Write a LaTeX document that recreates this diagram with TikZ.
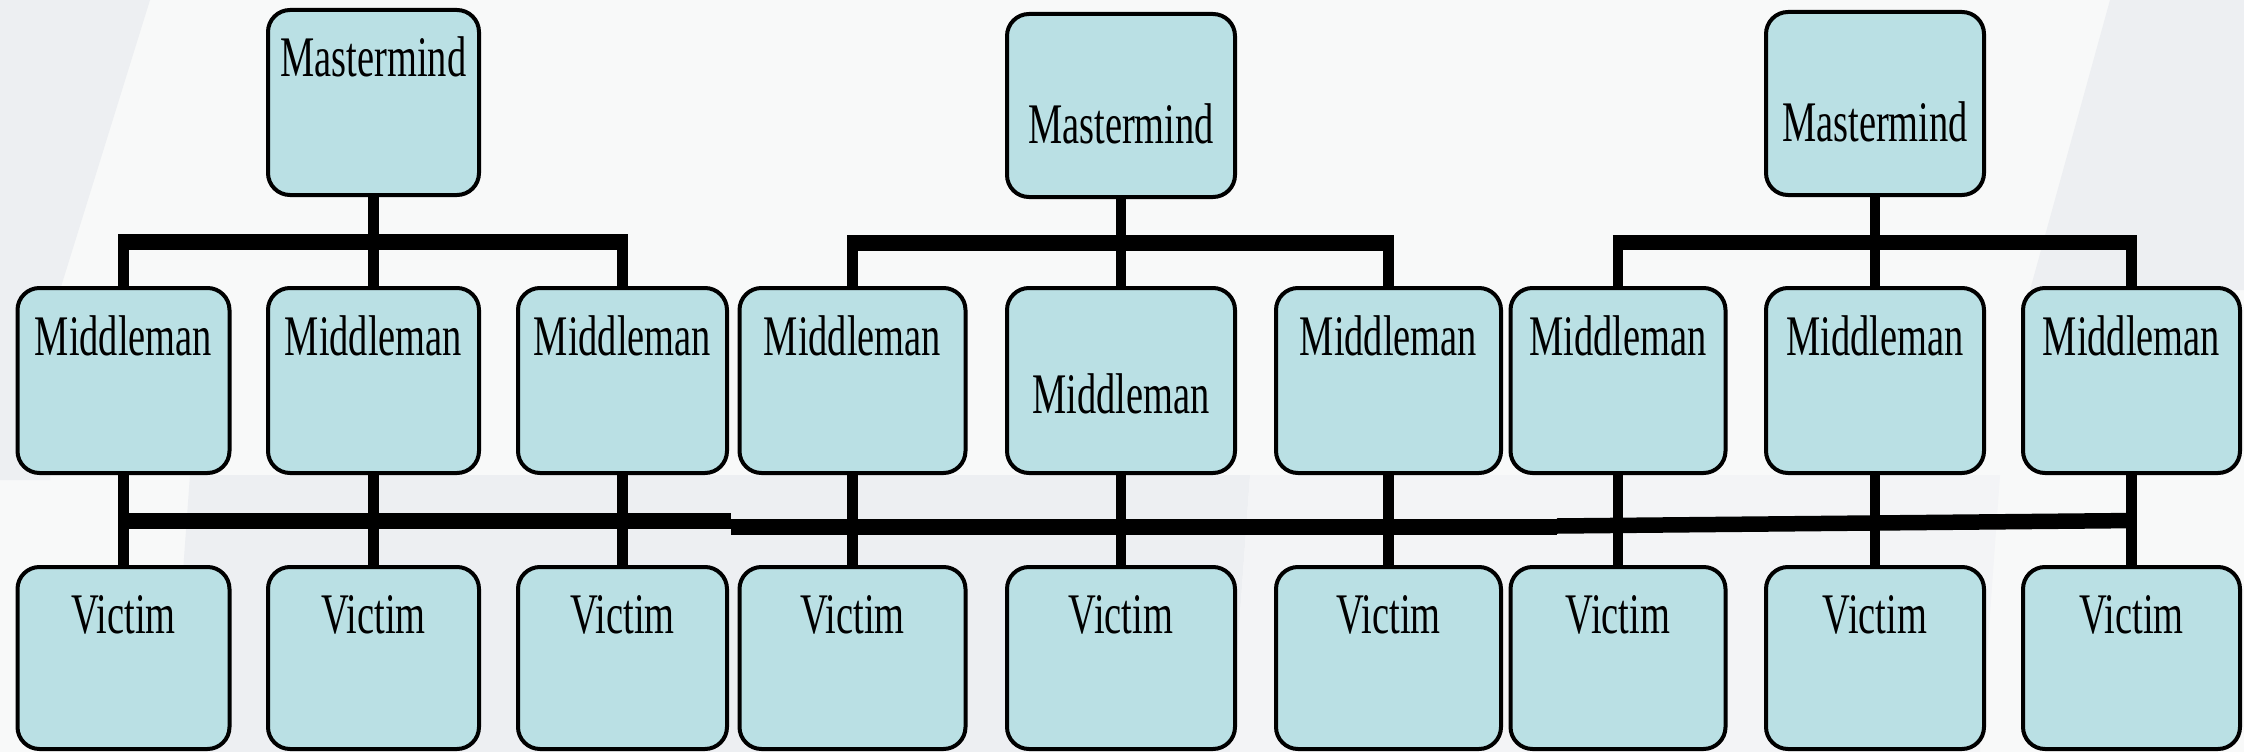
\documentclass[tikz,border=0pt]{standalone}
\usepackage{fontspec}
\newfontfamily\boxfont[FakeStretch=0.67]{Liberation Serif}
\definecolor{boxfill}{RGB}{186,224,228}
\definecolor{bgcol}{RGB}{248,249,249}
\definecolor{shadeA}{RGB}{237,239,242}
\definecolor{shadeB}{RGB}{243,244,246}
\begin{document}
\begin{tikzpicture}[x=1pt,y=-1pt,
  box/.style={draw=black, line width=4pt, fill=boxfill, rounded corners=22pt,
    minimum width=#1, minimum height=185pt, inner sep=0pt, outer sep=0pt},
  lbl/.style={font=\boxfont\fontsize{57.4}{60}\selectfont, anchor=base, inner sep=0pt},
  vline/.style={line width=10.5pt, draw=black},
  hbar/.style={line width=15.5pt, draw=black}]
% background
\fill[bgcol] (0,0) rectangle (2244,752);
\fill[shadeA] (0,0) -- (150,0) -- (60,290) -- (50,480) -- (0,480) -- cycle;
\fill[shadeA] (190,475) -- (1250,475) -- (1230,752) -- (170,752) -- cycle;
\fill[shadeB] (1250,475) -- (2000,475) -- (1980,752) -- (1230,752) -- cycle;
\fill[shadeA] (2110,0) -- (2244,0) -- (2244,290) -- (2030,290) -- cycle;
\useasboundingbox (0,0) rectangle (2244,752);

% masterminds
\node[box=211pt] (M1) at (373.5,102.5) {};
\node[box=228pt, minimum height=183pt] (M2) at (1121,105.5) {};
\node[box=218pt, minimum height=183pt] (M3) at (1875,103.5) {};

% middlemen
\node[box=212pt] (A1) at (123.5,380.5) {};
\node[box=211pt] (A2) at (373.5,380.5) {};
\node[box=209pt] (A3) at (622.5,380.5) {};
\node[box=226pt] (A4) at (852.5,380.5) {};
\node[box=228pt] (A5) at (1121,380.5) {};
\node[box=225pt] (A6) at (1388.5,380.5) {};
\node[box=215pt] (A7) at (1618,380.5) {};
\node[box=218pt] (A8) at (1875,380.5) {};
\node[box=217pt] (A9) at (2131.5,380.5) {};

% victims
\node[box=212pt, minimum height=182pt] (V1) at (123.5,658) {};
\node[box=211pt, minimum height=182pt] (V2) at (373.5,658) {};
\node[box=209pt, minimum height=182pt] (V3) at (622.5,658) {};
\node[box=226pt, minimum height=182pt] (V4) at (852.5,658) {};
\node[box=228pt, minimum height=182pt] (V5) at (1121,658) {};
\node[box=225pt, minimum height=182pt] (V6) at (1388.5,658) {};
\node[box=215pt, minimum height=182pt] (V7) at (1618,658) {};
\node[box=218pt, minimum height=182pt] (V8) at (1875,658) {};
\node[box=217pt, minimum height=182pt] (V9) at (2131.5,658) {};

% labels
\node[lbl] (tM1) at (373.5,77) {Mastermind};
\node[lbl] (tM2) at (1121,143) {Mastermind};
\node[lbl] (tM3) at (1875,141) {Mastermind};
\foreach \i/\x in {1/123.5,2/373.5,3/622.5,4/852.5,6/1388.5,7/1618,8/1875,9/2131.5}
  \node[lbl] (tA\i) at (\x,355) {Middleman};
\node[lbl] (tA5) at (1121,413) {Middleman};
\foreach \i/\x in {1/123.5,2/373.5,3/622.5,4/852.5,5/1121,6/1388.5,7/1618,8/1875,9/2131.5}
  \node[lbl] (tV\i) at (\x,633) {Victim};

% bar levels
\coordinate (tb1) at (0,242);
\coordinate (tb2) at (0,243);
\coordinate (tb3) at (0,242.5);
\coordinate (bb1) at (0,521);
\coordinate (bb2) at (0,527);
\coordinate (j1) at (730.5,521);
\coordinate (j2) at (730.5,527);
\coordinate (j3) at (1557,527);
\coordinate (j4) at (1557,526);
\coordinate (j5) at (2136.75,520.5);

% top connectors
\draw[vline] (M1.south) -- (A2.north);
\draw[vline] (A1.north) -- (A1.north |- tb1);
\draw[vline] (A3.north) -- (A3.north |- tb1);
\draw[hbar] ([xshift=-5.25pt]A1.north |- tb1) -- ([xshift=5.25pt]A3.north |- tb1);

\draw[vline] (M2.south) -- (A5.north);
\draw[vline] (A4.north) -- (A4.north |- tb2);
\draw[vline] (A6.north) -- (A6.north |- tb2);
\draw[hbar] ([xshift=-5.25pt]A4.north |- tb2) -- ([xshift=5.25pt]A6.north |- tb2);

\draw[vline] (M3.south) -- (A8.north);
\draw[vline] (A7.north) -- (A7.north |- tb3);
\draw[vline] (A9.north) -- (A9.north |- tb3);
\draw[hbar] ([xshift=-5.25pt]A7.north |- tb3) -- ([xshift=5.25pt]A9.north |- tb3);

% middleman to victim
\foreach \i in {1,...,9}
  \draw[vline] (A\i.south) -- (V\i.north);

% bottom bar
\draw[hbar] ([xshift=-5.25pt]A1.south |- bb1) -- (j1);
\draw[hbar] (j2) -- (j3);
\draw[hbar] (j4) -- (j5);
\end{tikzpicture}
\end{document}
